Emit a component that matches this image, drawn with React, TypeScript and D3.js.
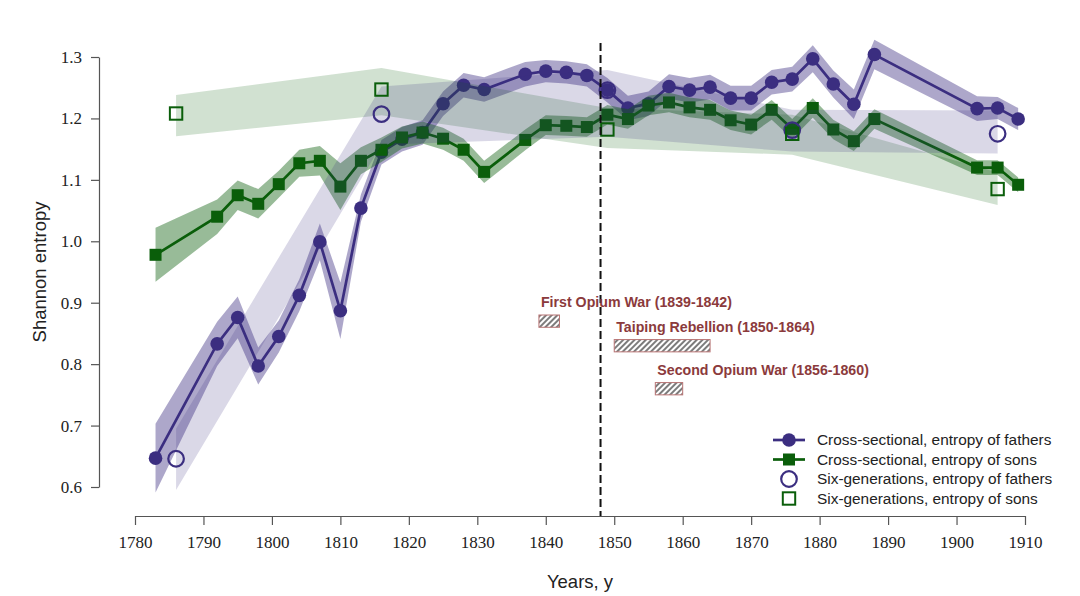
import { useEffect, useRef } from 'react';
import * as d3 from 'd3';

// cross-sectional samples (exam years)
const crossYears = [
  1783, 1792, 1795, 1798, 1801, 1804, 1807, 1810, 1813, 1816, 1819, 1822,
  1825, 1828, 1831, 1837, 1840, 1843, 1846, 1849, 1852, 1855, 1858, 1861,
  1864, 1867, 1870, 1873, 1876, 1879, 1882, 1885, 1888, 1903, 1906, 1909,
];
const crossFathers = [
  0.647, 0.833, 0.876, 0.797, 0.845, 0.912, 0.999, 0.887, 1.054, 1.145, 1.166, 1.177,
  1.224, 1.254, 1.247, 1.272, 1.277, 1.275, 1.27, 1.246, 1.217, 1.224, 1.252, 1.246,
  1.251, 1.233, 1.233, 1.259, 1.264, 1.297, 1.256, 1.223, 1.304, 1.216, 1.217, 1.199,
];
const crossFathersErr = [
  0.056, 0.036, 0.034, 0.03, 0.026, 0.026, 0.03, 0.046, 0.022, 0.02, 0.02, 0.02,
  0.02, 0.02, 0.02, 0.02, 0.018, 0.018, 0.018, 0.02, 0.02, 0.02, 0.02, 0.02,
  0.02, 0.02, 0.02, 0.02, 0.02, 0.022, 0.022, 0.024, 0.024, 0.02, 0.018, 0.018,
];
const crossSons = [
  0.978, 1.04, 1.075, 1.061, 1.093, 1.127, 1.131, 1.089, 1.131, 1.149, 1.169, 1.177,
  1.167, 1.149, 1.113, 1.165, 1.189, 1.188, 1.186, 1.206, 1.199, 1.221, 1.226, 1.218,
  1.214, 1.197, 1.19, 1.214, 1.183, 1.217, 1.182, 1.163, 1.199, 1.12, 1.12, 1.092,
];
const crossSonsErr = [
  0.044, 0.028, 0.024, 0.024, 0.022, 0.022, 0.024, 0.038, 0.022, 0.02, 0.018, 0.018,
  0.018, 0.018, 0.018, 0.017, 0.016, 0.016, 0.016, 0.016, 0.016, 0.016, 0.016, 0.016,
  0.016, 0.016, 0.016, 0.016, 0.016, 0.016, 0.016, 0.016, 0.016, 0.012, 0.012, 0.012,
];

// six-generation samples
const sixYears = [1786, 1816, 1849, 1876, 1906];
const sixFathers = [0.646, 1.207, 1.246, 1.181, 1.175];
const sixFathersLow = [0.595, 1.157, 1.17, 1.146, 1.143];
const sixFathersHigh = [0.695, 1.252, 1.279, 1.214, 1.213];
const sixSons = [1.208, 1.247, 1.182, 1.175, 1.085];
const sixSonsLow = [1.171, 1.205, 1.152, 1.141, 1.059];
const sixSonsHigh = [1.238, 1.282, 1.217, 1.206, 1.112];

// historical events
const eventNames = [
  'First Opium War (1839-1842)',
  'Taiping Rebellion (1850-1864)',
  'Second Opium War (1856-1860)',
];
const eventStart = [1839, 1850, 1856];
const eventEnd = [1842, 1864, 1860];
const eventLow = [0.86, 0.82, 0.75];
const eventHigh = [0.88, 0.84, 0.77];
const breakYear = 1848;

const xTicks = [1780, 1790, 1800, 1810, 1820, 1830, 1840, 1850, 1860, 1870, 1880, 1890, 1900, 1910];
const yTicks = [0.6, 0.7, 0.8, 0.9, 1.0, 1.1, 1.2, 1.3];

const legendLabels = [
  'Cross-sectional, entropy of fathers',
  'Cross-sectional, entropy of sons',
  'Six-generations, entropy of fathers',
  'Six-generations, entropy of sons',
];

const PURPLE = '#3b2e80';
const GREEN = '#0a5e0a';
const EVENT = '#8b3a3c';
const SANS = '"Liberation Sans", Arial, sans-serif';
const SERIF = '"Liberation Serif", "Times New Roman", serif';

function EntropyChart() {
  const ref = useRef<SVGSVGElement>(null);

  useEffect(() => {
    if (!ref.current) return;
    const svg = d3.select(ref.current);
    svg.selectAll('*').remove();

    const x = d3.scaleLinear().domain([1780, 1910]).range([135, 1025]);
    const y = d3.scaleLinear().domain([0.6, 1.3]).range([487, 57]);

    const defs = svg.append('defs');
    const pat = defs
      .append('pattern')
      .attr('id', 'hatch')
      .attr('patternUnits', 'userSpaceOnUse')
      .attr('width', 4)
      .attr('height', 4)
      .attr('patternTransform', 'rotate(45)');
    pat.append('rect').attr('width', 4).attr('height', 4).attr('fill', '#fff');
    pat
      .append('line')
      .attr('x1', 1)
      .attr('x2', 1)
      .attr('y1', 0)
      .attr('y2', 4)
      .attr('stroke', '#444')
      .attr('stroke-width', 1.4);

    // axes
    const yAxis = svg
      .append('g')
      .attr('transform', 'translate(99,0)')
      .call(
        d3
          .axisLeft(y)
          .tickValues(yTicks)
          .tickSize(8)
          .tickSizeOuter(0)
          .tickPadding(9)
          .tickFormat(d3.format('.1f'))
      );
    const xAxis = svg
      .append('g')
      .attr('transform', 'translate(0,516)')
      .call(
        d3
          .axisBottom(x)
          .tickValues(xTicks)
          .tickSize(9)
          .tickSizeOuter(0)
          .tickPadding(11)
          .tickFormat(d3.format('d'))
      );
    [yAxis, xAxis].forEach(ax => {
      ax.attr('font-family', SERIF);
      ax.select('.domain').attr('stroke', '#555').attr('stroke-width', 1.2);
      ax.selectAll('.tick line').attr('stroke', '#555').attr('stroke-width', 1.2);
      ax.selectAll('text')
        .style('font-family', SERIF)
        .style('font-size', '17px')
        .attr('fill', '#222');
    });

    svg
      .append('text')
      .attr('transform', `translate(46,${(y(0.6) + y(1.3)) / 2}) rotate(-90)`)
      .attr('text-anchor', 'middle')
      .style('font-family', SANS)
      .style('font-size', '18.5px')
      .attr('fill', '#222')
      .text('Shannon entropy');
    svg
      .append('text')
      .attr('x', (x(1780) + x(1910)) / 2)
      .attr('y', 588)
      .attr('text-anchor', 'middle')
      .style('font-family', SANS)
      .style('font-size', '18.5px')
      .attr('fill', '#222')
      .text('Years, y');

    const idx = d3.range(crossYears.length);
    const sidx = d3.range(sixYears.length);

    const band = (
      years: number[],
      lo: (i: number) => number,
      hi: (i: number) => number
    ) =>
      d3
        .area<number>()
        .x(i => x(years[i]))
        .y0(i => y(lo(i)))
        .y1(i => y(hi(i)));

    const drawCross = (
      vals: number[],
      err: number[],
      color: string,
      shape: 'circle' | 'square'
    ) => {
      svg
        .append('path')
        .datum(idx)
        .attr('d', band(crossYears, i => vals[i] - err[i], i => vals[i] + err[i]))
        .attr('fill', color)
        .attr('fill-opacity', 0.42);
      svg
        .append('path')
        .datum(idx)
        .attr(
          'd',
          d3
            .line<number>()
            .x(i => x(crossYears[i]))
            .y(i => y(vals[i]))
        )
        .attr('fill', 'none')
        .attr('stroke', color)
        .attr('stroke-width', 2.7);
      if (shape === 'circle') {
        svg
          .append('g')
          .selectAll('circle')
          .data(idx)
          .join('circle')
          .attr('cx', i => x(crossYears[i]))
          .attr('cy', i => y(vals[i]))
          .attr('r', 6.8)
          .attr('fill', color);
      } else {
        svg
          .append('g')
          .selectAll('rect')
          .data(idx)
          .join('rect')
          .attr('x', i => x(crossYears[i]) - 6)
          .attr('y', i => y(vals[i]) - 6)
          .attr('width', 12)
          .attr('height', 12)
          .attr('fill', color);
      }
    };

    drawCross(crossFathers, crossFathersErr, PURPLE, 'circle');
    drawCross(crossSons, crossSonsErr, GREEN, 'square');

    // six-generation bands
    svg
      .append('path')
      .datum(sidx)
      .attr('d', band(sixYears, i => sixSonsLow[i], i => sixSonsHigh[i]))
      .attr('fill', GREEN)
      .attr('fill-opacity', 0.19);
    svg
      .append('path')
      .datum(sidx)
      .attr('d', band(sixYears, i => sixFathersLow[i], i => sixFathersHigh[i]))
      .attr('fill', PURPLE)
      .attr('fill-opacity', 0.19);

    svg
      .append('g')
      .selectAll('circle')
      .data(sidx)
      .join('circle')
      .attr('cx', i => x(sixYears[i]))
      .attr('cy', i => y(sixFathers[i]))
      .attr('r', 7.8)
      .attr('fill', 'none')
      .attr('stroke', PURPLE)
      .attr('stroke-width', 2.2);
    svg
      .append('g')
      .selectAll('rect')
      .data(sidx)
      .join('rect')
      .attr('x', i => x(sixYears[i]) - 6.2)
      .attr('y', i => y(sixSons[i]) - 6.2)
      .attr('width', 12.4)
      .attr('height', 12.4)
      .attr('fill', 'none')
      .attr('stroke', GREEN)
      .attr('stroke-width', 2);

    // break line
    svg
      .append('line')
      .attr('x1', x(breakYear))
      .attr('x2', x(breakYear))
      .attr('y1', y(1.3) - 14)
      .attr('y2', 516)
      .attr('stroke', '#111')
      .attr('stroke-width', 2)
      .attr('stroke-dasharray', '8,4');

    // events
    const ev = svg.append('g');
    eventNames.forEach((name, i) => {
      ev.append('rect')
        .attr('x', x(eventStart[i]))
        .attr('y', y(eventHigh[i]))
        .attr('width', x(eventEnd[i]) - x(eventStart[i]))
        .attr('height', y(eventLow[i]) - y(eventHigh[i]))
        .attr('fill', 'url(#hatch)')
        .attr('stroke', '#b87474')
        .attr('stroke-width', 1);
      ev.append('text')
        .attr('x', x(eventStart[i]) + 2)
        .attr('y', y(eventHigh[i]) - 8)
        .style('font-family', SANS)
        .style('font-size', '14.2px')
        .style('font-weight', 'bold')
        .attr('fill', EVENT)
        .text(name);
    });

    // legend
    const lg = svg.append('g').attr('transform', 'translate(773,440)');
    legendLabels.forEach((label, i) => {
      const row = lg.append('g').attr('transform', `translate(0,${i * 19.5})`);
      const color = i % 2 === 0 ? PURPLE : GREEN;
      if (i < 2) {
        row.append('line')
          .attr('x1', 0)
          .attr('x2', 32)
          .attr('stroke', color)
          .attr('stroke-width', 2.7);
      }
      if (i % 2 === 0) {
        row.append('circle')
          .attr('cx', 16)
          .attr('r', i < 2 ? 6.8 : 7.8)
          .attr('fill', i < 2 ? color : 'none')
          .attr('stroke', i < 2 ? 'none' : color)
          .attr('stroke-width', 2.2);
      } else {
        const s = i < 2 ? 12 : 12.4;
        row.append('rect')
          .attr('x', 16 - s / 2)
          .attr('y', -s / 2)
          .attr('width', s)
          .attr('height', s)
          .attr('fill', i < 2 ? color : 'none')
          .attr('stroke', i < 2 ? 'none' : color)
          .attr('stroke-width', 2);
      }
      row.append('text')
        .attr('x', 44)
        .attr('dy', '0.35em')
        .style('font-family', SANS)
        .style('font-size', '15.4px')
        .attr('fill', '#222')
        .text(label);
    });
  }, []);

  return (
    <svg
      ref={ref}
      width={1080}
      height={596}
      style={{ position: 'absolute', left: 0, top: 0, background: '#fff' }}
    />
  );
}

export default function App() {
  return <EntropyChart />;
}
